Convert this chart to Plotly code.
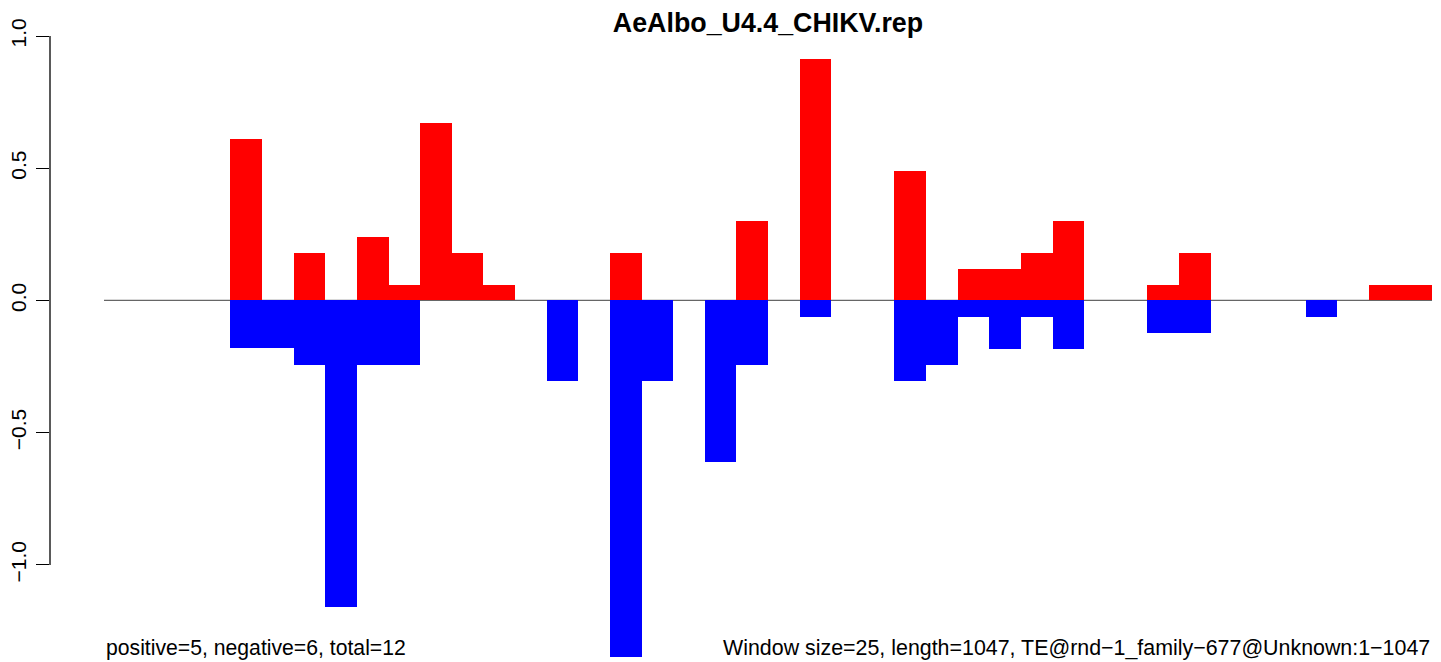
import plotly.graph_objects as go

TITLE = 'AeAlbo_U4.4_CHIKV.rep'
LEFT_NOTE = 'positive=5, negative=6, total=12'
RIGHT_NOTE = 'Window size=25, length=1047, TE@rnd\u22121_family\u2212677@Unknown:1\u22121047'

# one value per 25 bp window (42 windows)
windows = list(range(42))
positive = [0, 0, 0, 0, 0.61, 0, 0.18, 0, 0.24, 0.06,
            0.67, 0.18, 0.06, 0, 0, 0, 0.18, 0, 0, 0,
            0.30, 0, 0.915, 0, 0, 0.49, 0, 0.12, 0.12, 0.18,
            0.30, 0, 0, 0.06, 0.18, 0, 0, 0, 0, 0,
            0.06, 0.06]
negative = [0, 0, 0, 0, -0.18, -0.18, -0.245, -1.16, -0.245, -0.245,
            0, 0, 0, 0, -0.305, 0, -1.35, -0.305, 0, -0.61,
            -0.245, 0, -0.063, 0, 0, -0.305, -0.245, -0.063, -0.184, -0.063,
            -0.184, 0, 0, -0.124, -0.124, 0, 0, 0, -0.063, 0,
            0, 0]

ytick_vals = [-1.0, -0.5, 0.0, 0.5, 1.0]
ytick_text = ['\u22121.0', '\u22120.5', '0.0', '0.5', '1.0']

FONT = 'Liberation Sans, Arial, Helvetica, sans-serif'

# the page body adds an 8px margin, so the figure is 8px smaller than the window
W, H = 1433, 654

x_pos = [w + 0.5 for w in windows]

fig = go.Figure()
fig.add_trace(go.Bar(x=x_pos, y=positive, width=1, marker=dict(color='#ff0000', line=dict(width=0)),
                     showlegend=False, hoverinfo='y'))
fig.add_trace(go.Bar(x=x_pos, y=negative, width=1, marker=dict(color='#0000ff', line=dict(width=0)),
                     showlegend=False, hoverinfo='y'))

# zero line across the windows
fig.add_shape(type='line', x0=0, x1=len(windows), y0=0, y1=0, xref='x', yref='y',
              line=dict(color='#666666', width=1.3), layer='below')
# R-style axis line limited to the tick range
fig.add_shape(type='line', x0=0, x1=0, y0=ytick_vals[0], y1=ytick_vals[-1], xref='paper', yref='y',
              line=dict(color='black', width=1.3))

fig.add_annotation(text=LEFT_NOTE, x=0, xref='x', y=0.016, yref='paper', xanchor='left', yanchor='middle',
                   showarrow=False, font=dict(family=FONT, size=21.2, color='black'))
fig.add_annotation(text=RIGHT_NOTE, x=len(windows), xref='x', y=0.016, yref='paper', xanchor='right',
                   yanchor='middle', showarrow=False, font=dict(family=FONT, size=21.4, color='black'))

fig.update_layout(
    width=W, height=H,
    margin=dict(l=42, r=9, t=12, b=4, autoexpand=False),
    paper_bgcolor='white', plot_bgcolor='white',
    barmode='relative', bargap=0,
    title=dict(text='<b>' + TITLE + '</b>', x=760 / W, xanchor='center', xref='container',
               y=1 - 15 / H, yanchor='middle', yref='container',
               font=dict(family=FONT, size=26.8, color='black')),
    xaxis=dict(range=[-54 / 31.62, len(windows)], visible=False, fixedrange=True),
    yaxis=dict(range=[-1.352, 1.0606], tickvals=ytick_vals, ticktext=ytick_text,
               tickangle=-90, ticks='outside', ticklen=13, tickwidth=1.3, tickcolor='black',
               showline=False, showgrid=False, zeroline=False, automargin=False,
               tickfont=dict(family=FONT, size=21, color='black'), ticklabelstandoff=2),
)

fig.write_html('out.html')
